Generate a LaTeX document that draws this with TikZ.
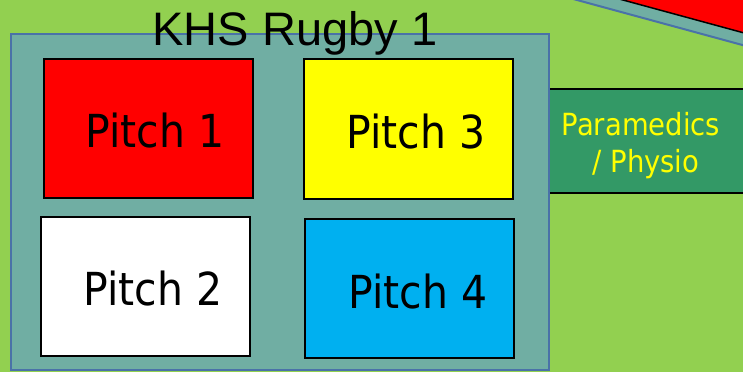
\documentclass[tikz,border=0pt]{standalone}
\usepackage{fontspec}
\setmainfont{Liberation Sans}
\newfontfamily\condfont{DejaVu Sans Condensed}
\definecolor{bg}{HTML}{92D050}
\definecolor{fieldteal}{HTML}{70AEA3}
\definecolor{bord}{HTML}{4A72A8}
\definecolor{medgreen}{HTML}{339966}
\definecolor{skyb}{HTML}{00B0F0}
\definecolor{pyellow}{HTML}{FFFF00}
\begin{document}
\begin{tikzpicture}[x=1pt,y=-1pt,
  box/.style={inner sep=0pt,outer sep=0pt,anchor=north west},
  pitchbox/.style={box,draw=black,line width=1.5pt,minimum width=209pt,minimum height=139pt},
  ptext/.style={font=\condfont\fontsize{45.5}{50}\selectfont,anchor=base,inner sep=0pt},
  medtext/.style={font=\condfont\fontsize{30.5}{36}\selectfont,anchor=base,inner sep=0pt,text=pyellow}]
\useasboundingbox (0,0) rectangle (743,372);
\fill[bg] (0,0) rectangle (743,372);
\begin{scope}
\clip (0,0) rectangle (743,372);
% neighbouring field at top right
\fill[fieldteal] (558.6,-5) -- (760,49.8) -- (760,-5) -- cycle;
\draw[bord,line width=2pt] (558.6,-5) -- (760,49.8);
\fill[red] (604.6,-5) -- (760,37.3) -- (760,-5) -- cycle;
\draw[black,line width=1.5pt] (604.6,-5) -- (760,37.3);
% paramedics box
\node[box,fill=medgreen,draw=black,line width=1.5pt,minimum width=220pt,minimum height=104pt] (medbox) at (540,89) {};
\end{scope}
\node[medtext] (med1) at (641,135) {Paramedics};
\node[medtext] (med2) at (646,172) {/ Physio};
% main field
\node[box,fill=fieldteal,draw=bord,line width=2pt,minimum width=538pt,minimum height=336pt] (field) at (11,34) {};
% pitches
\node[pitchbox,fill=red] (p1) at (44,59) {};
\node[pitchbox,fill=pyellow,minimum height=140pt] (p3) at (304,59) {};
\node[pitchbox,fill=white] (p2) at (41,217) {};
\node[pitchbox,fill=skyb] (p4) at (305,219) {};
\node[ptext] (t1) at (155,147) {Pitch 1};
\node[ptext] (t3) at (416,148) {Pitch 3};
\node[ptext] (t2) at (153,305) {Pitch 2};
\node[ptext] (t4) at (418,308) {Pitch 4};
% title
\node[font=\fontsize{47}{52}\selectfont,anchor=base,inner sep=0pt] (title) at (295,45) {KHS Rugby 1};
\end{tikzpicture}
\end{document}
